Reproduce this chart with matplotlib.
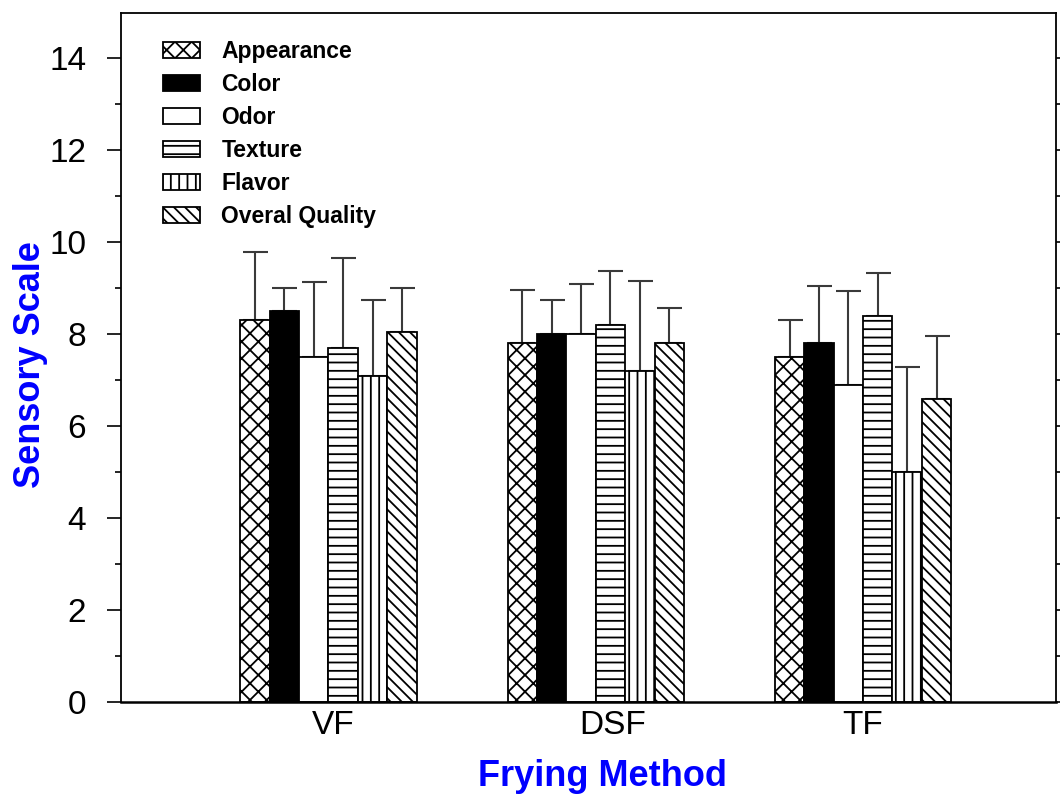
import numpy as np
import matplotlib
matplotlib.use("Agg")
import matplotlib.pyplot as plt

# Sensory scores by frying method
methods = ["VF", "DSF", "TF"]
attributes = ["Appearance", "Color", "Odor", "Texture", "Flavor", "Overal Quality"]

appearance = [8.3, 7.8, 7.5]
color = [8.5, 8.0, 7.8]
odor = [7.5, 8.0, 6.9]
texture = [7.7, 8.2, 8.4]
flavor = [7.1, 7.2, 5.0]
overall = [8.05, 7.8, 6.6]

appearance_sd = [1.5, 1.17, 0.82]
color_sd = [0.5, 0.75, 1.26]
odor_sd = [1.63, 1.1, 2.04]
texture_sd = [1.95, 1.17, 0.93]
flavor_sd = [1.64, 1.96, 2.29]
overall_sd = [0.95, 0.78, 1.36]

means = [appearance, color, odor, texture, flavor, overall]
sds = [appearance_sd, color_sd, odor_sd, texture_sd, flavor_sd, overall_sd]

# Bar appearance per attribute
fills = ["white", "black", "white", "white", "white", "white"]
hatches = ["xx", None, None, "--", "||", "\\\\\\"]

plt.rcParams["font.family"] = ["Liberation Sans", "DejaVu Sans"]
plt.rcParams["hatch.linewidth"] = 1.3
plt.rcParams["hatch.color"] = "black"

fig = plt.figure(figsize=(10.6, 7.95), dpi=100)
ax = fig.add_axes([121 / 1060, 1 - 702 / 795, (1056 - 121) / 1060, (702 - 12.5) / 795])

x = np.arange(len(methods))
width = 0.11
for i, (m, s) in enumerate(zip(means, sds)):
    pos = x + (i - 2.5) * width
    ax.bar(pos, m, width, color=fills[i], edgecolor="black", linewidth=1.3,
           hatch=hatches[i], label=attributes[i], zorder=2)
    ax.errorbar(pos, m, yerr=[np.zeros(len(s)), s], fmt="none",
                ecolor="#3a3a3a", elinewidth=1.5, capsize=9, capthick=1.5,
                zorder=1)

ax.set_xlim(-0.776, 2.722)
ax.set_ylim(0, 15)
# category labels sit slightly right of the group centres
label_shift = [0.019, 0.065, 0.0]
ax.set_xticks(x + np.array(label_shift))
ax.set_xticklabels(methods)
ax.set_yticks(np.arange(0, 15, 2))
ax.set_yticks(np.arange(1, 15, 2), minor=True)

ax.tick_params(axis="x", length=0, pad=6, labelsize=24)
ax.tick_params(axis="y", which="major", direction="out", length=10, width=1.2,
               pad=15, labelsize=24, right=True)
ax.tick_params(axis="y", which="minor", direction="out", length=4.5, width=1.2,
               right=True)
for sp in ax.spines.values():
    sp.set_linewidth(1.3)
ax.spines["bottom"].set_linewidth(1.8)

fig.text(602 / 1060, 1 - 786 / 795, "Frying Method", color="blue",
         fontsize=26, fontweight="bold", ha="center", va="baseline")
fig.text(31 / 1060, 1 - 365 / 795, "Sensory Scale", color="blue",
         fontsize=26, fontweight="bold", ha="center", va="center", rotation=90)

ax.legend(loc="upper left", bbox_to_anchor=(163 / 1060, 1 - 40 / 795),
          bbox_transform=fig.transFigure, frameon=False, borderpad=0,
          borderaxespad=0, prop={"size": 16.5, "weight": "bold"},
          handlelength=1.6, handleheight=0.7, handletextpad=0.95,
          labelspacing=0.44)

fig.savefig("out.png", dpi=100)
